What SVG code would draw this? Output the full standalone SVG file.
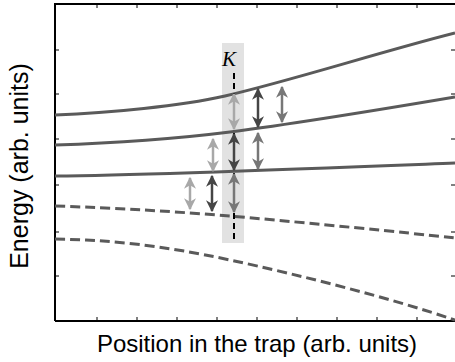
<svg xmlns="http://www.w3.org/2000/svg" width="455" height="362" viewBox="0 0 455 362">
<style>
.curve{fill:none;stroke:#5a5a5a;stroke-width:3}
.dash{stroke-dasharray:10 5}
.tick{stroke:#000;stroke-width:1}
.arr{fill:none;stroke-width:2.5}
.lbl{font-family:"Liberation Sans",Arial,sans-serif;fill:#000}
</style>
<defs>
<marker id="mL" markerUnits="userSpaceOnUse" markerWidth="12" markerHeight="12" viewBox="0 0 10 10" refX="9" refY="5" orient="auto-start-reverse"><path d="M0,0 L10,5 L0,10 L3,5 z" fill="#a8a8a8"/></marker>
<marker id="mM" markerUnits="userSpaceOnUse" markerWidth="12" markerHeight="12" viewBox="0 0 10 10" refX="9" refY="5" orient="auto-start-reverse"><path d="M0,0 L10,5 L0,10 L3,5 z" fill="#777"/></marker>
<marker id="mD" markerUnits="userSpaceOnUse" markerWidth="12" markerHeight="12" viewBox="0 0 10 10" refX="9" refY="5" orient="auto-start-reverse"><path d="M0,0 L10,5 L0,10 L3,5 z" fill="#454545"/></marker>
</defs>
<rect width="455" height="362" fill="#fff"/>
<g id="band"><rect x="222" y="43" width="22" height="200" fill="#e2e2e2"/></g>
<g id="frame">
<path d="M55,321 L55,4 L457,4 M55,321 L457,321" fill="none" stroke="#000" stroke-width="2"/>
<path class="tick" d="M97,4v4M137,4v4M177,4v4M217,4v4M257,4v4M297,4v4M337,4v4M377,4v4M417,4v4M97,321v-4M137,321v-4M177,321v-4M217,321v-4M257,321v-4M297,321v-4M337,321v-4M377,321v-4M417,321v-4M55,50h4M55,94h4M55,139h4M55,185h4M55,232h4M55,276h4M455,50h-4M455,94h-4M455,139h-4M455,185h-4M455,232h-4M455,276h-4"/>
</g>
<g id="levels">
<path class="curve" d="M55,115 C110,113 180,106 225,96 C290,81 380,52 455,33"/>
<path class="curve" d="M55,145 C120,143 190,137 230,132 C300,123 390,108 455,97"/>
<path class="curve" d="M55,176 C150,175 300,169 455,163"/>
<path class="curve dash" d="M55,206 C120,208 180,212 230,216 C320,224 400,232 455,238"/>
<path class="curve dash" d="M55,239 C110,240 160,245 230,260 C300,275 390,298 455,320"/>
</g>
<g id="kline"><path d="M234,73 L234,243" stroke="#000" stroke-width="2" stroke-dasharray="6 4"/></g>
<g id="arrows">
<path class="arr" stroke="#a8a8a8" d="M234,94 L234,129" marker-start="url(#mL)" marker-end="url(#mL)"/>
<path class="arr" stroke="#454545" d="M234,134 L234,170" marker-start="url(#mD)" marker-end="url(#mD)"/>
<path class="arr" stroke="#777" d="M234,174 L234,212" marker-start="url(#mM)" marker-end="url(#mM)"/>
<path class="arr" stroke="#a8a8a8" d="M213,139 L213,171" marker-start="url(#mL)" marker-end="url(#mL)"/>
<path class="arr" stroke="#a8a8a8" d="M190,178 L190,209" marker-start="url(#mL)" marker-end="url(#mL)"/>
<path class="arr" stroke="#454545" d="M212,176 L212,211" marker-start="url(#mD)" marker-end="url(#mD)"/>
<path class="arr" stroke="#454545" d="M258,89 L258,127" marker-start="url(#mD)" marker-end="url(#mD)"/>
<path class="arr" stroke="#777" d="M258,133 L258,169" marker-start="url(#mM)" marker-end="url(#mM)"/>
<path class="arr" stroke="#777" d="M282,87 L282,122" marker-start="url(#mM)" marker-end="url(#mM)"/>
</g>
<g id="labels">
<text x="229" y="66" font-family="'Liberation Serif','Times New Roman',serif" font-style="italic" font-size="21" text-anchor="middle">K</text>
<text class="lbl" x="257" y="352" font-size="24" text-anchor="middle">Position in the trap (arb. units)</text>
<text class="lbl" transform="translate(28,166) rotate(-90)" font-size="25" text-anchor="middle">Energy (arb. units)</text>
</g>
</svg>
